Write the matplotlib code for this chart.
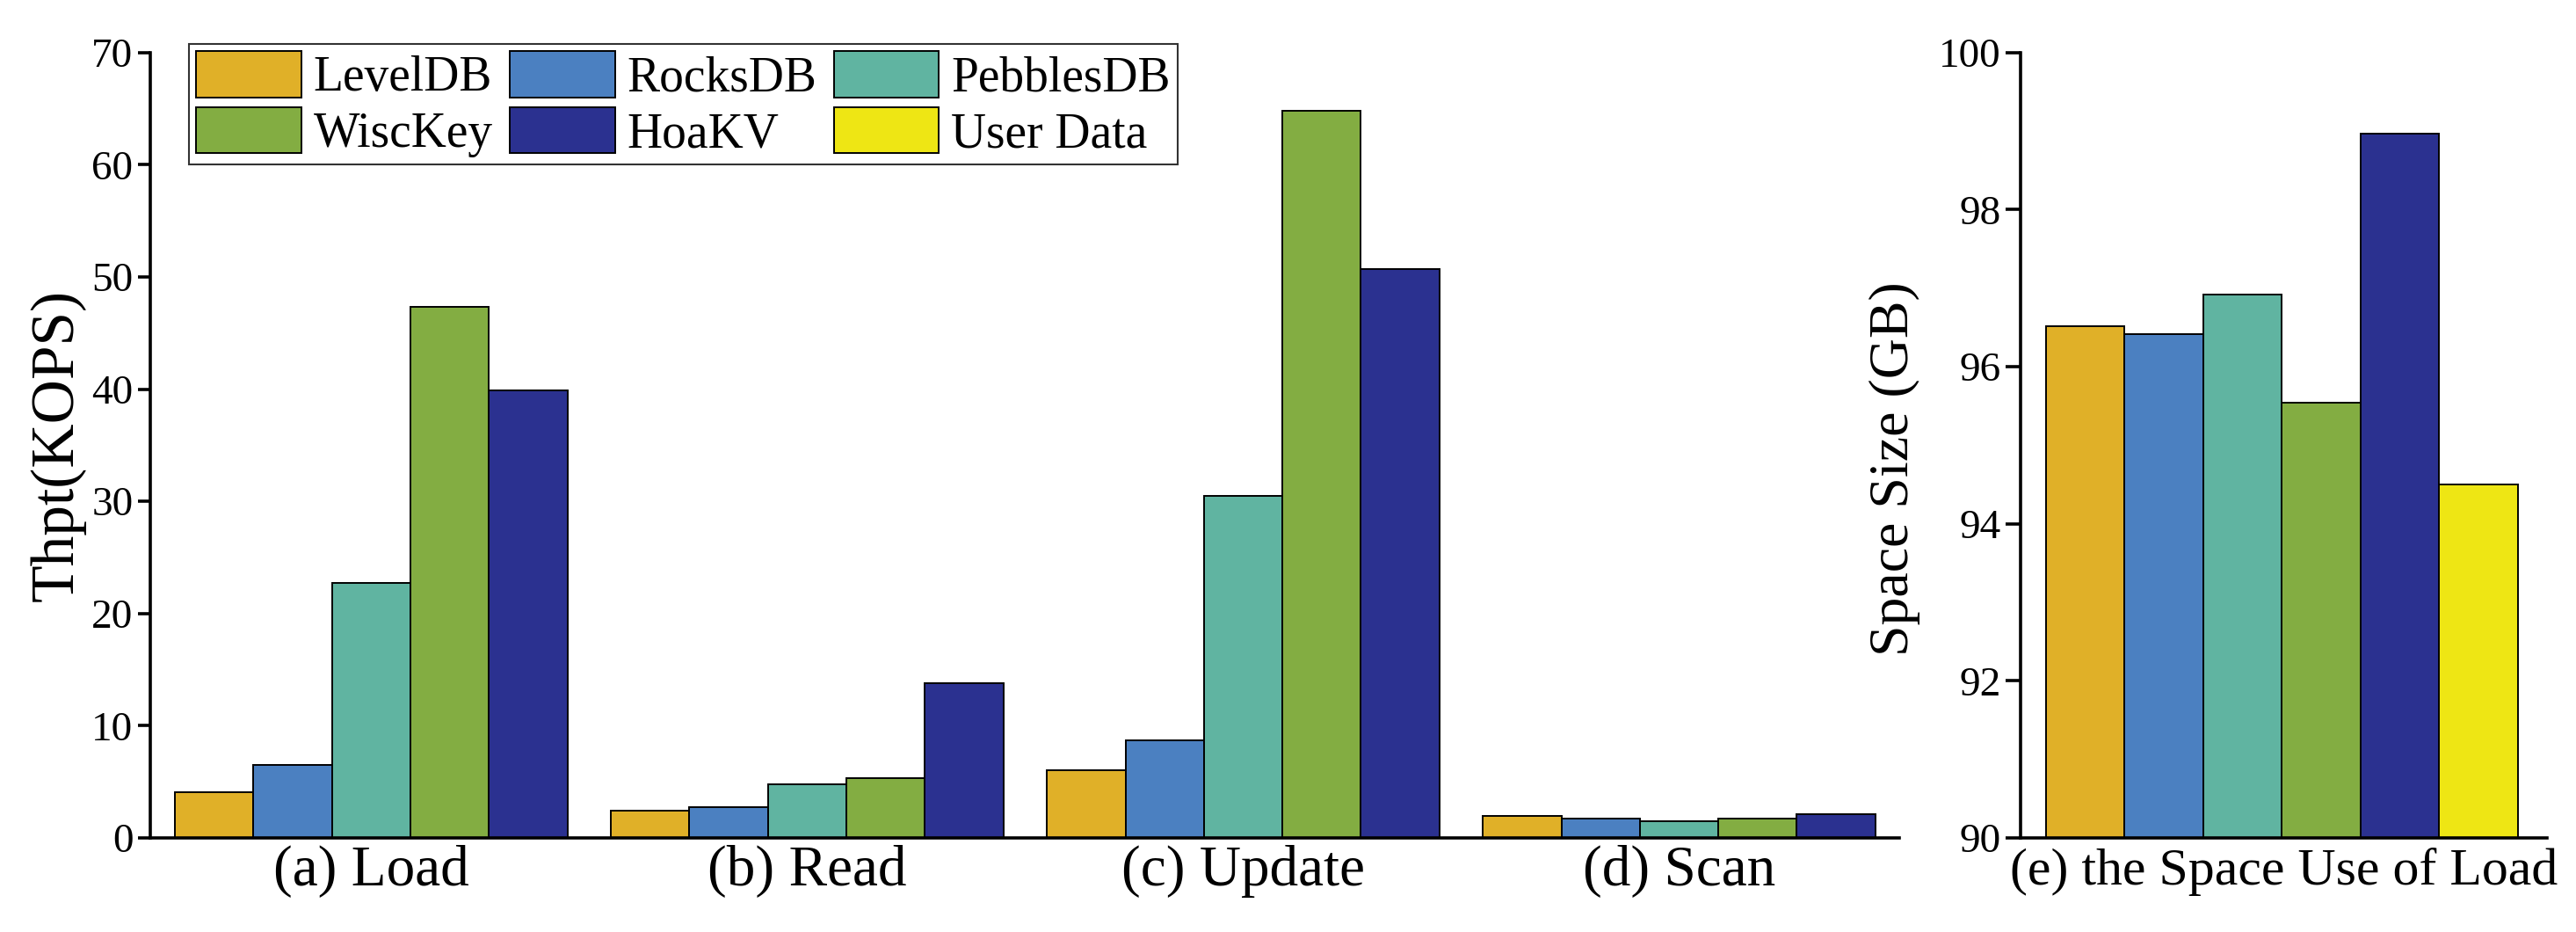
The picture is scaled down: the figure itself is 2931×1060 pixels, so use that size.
import matplotlib
matplotlib.use("Agg")
import matplotlib.pyplot as plt
import numpy as np

plt.rcParams["font.family"] = ["Liberation Serif", "DejaVu Serif"]

# throughput per workload (KOPS)
workloads = ["(a) Load", "(b) Read", "(c) Update", "(d) Scan"]
stores = ["LevelDB", "RocksDB", "PebblesDB", "WiscKey", "HoaKV"]
leveldb = [4.1, 2.4, 6.0, 1.95]
rocksdb = [6.5, 2.7, 8.7, 1.75]
pebblesdb = [22.7, 4.8, 30.5, 1.45]
wisckey = [47.3, 5.3, 64.8, 1.75]
hoakv = [39.9, 13.8, 50.7, 2.15]

# space use after load (GB)
space_names = ["LevelDB", "RocksDB", "PebblesDB", "WiscKey", "HoaKV", "User Data"]
space_size = [96.52, 96.42, 96.92, 95.54, 98.97, 94.50]

colors = ["#E0B028", "#4B80C1", "#60B4A1", "#83AD42", "#2B3190", "#EEE614"]

fig = plt.figure(figsize=(29.31, 10.60), dpi=100)
ax = fig.add_axes([0.0583, 0.101, 0.679, 0.8425])
ax2 = fig.add_axes([0.7844, 0.101, 0.2044, 0.8425])

series = [leveldb, rocksdb, pebblesdb, wisckey, hoakv]
x = np.arange(len(workloads))
width = 0.18
handles = []
for i, vals in enumerate(series):
    b = ax.bar(x + (i - 2) * width, vals, width, color=colors[i],
               edgecolor="black", linewidth=1.4, label=stores[i], zorder=2)
    handles.append(b)

ax.set_xlim(-0.507, 3.505)
ax.set_ylim(0, 70)
ax.set_yticks(range(0, 71, 10))
ax.set_xticks(x)
ax.set_xticklabels(workloads, fontsize=47)
ax.tick_params(axis="x", length=0, pad=6)
ax.tick_params(axis="y", labelsize=34, length=10, width=2.6, pad=4)
ax.set_ylabel("Thpt(KOPS)", fontsize=50)
ax.yaxis.set_label_coords(-0.037, 0.5)

xs = np.arange(len(space_names))
bars2 = ax2.bar(xs, space_size, 1.0, color=colors, edgecolor="black",
                linewidth=1.4, zorder=2)
ax2.set_xlim(-0.82, 5.87)
ax2.set_ylim(90, 100)
ax2.set_yticks(range(90, 101, 2))
ax2.set_xticks([])
ax2.tick_params(axis="y", labelsize=34, length=12, width=2.6, pad=4)
ax2.set_xlabel("(e) the Space Use of Load", fontsize=43, labelpad=8)
ax2.set_ylabel("Space Size (GB)", fontsize=46)
ax2.yaxis.set_label_coords(-0.19, 0.47)

for a in (ax, ax2):
    a.spines["top"].set_visible(False)
    a.spines["right"].set_visible(False)
    a.spines["left"].set_linewidth(2.6)
    a.spines["bottom"].set_linewidth(2.6)

# legend: the five stores plus the user-data bar
handles.append(bars2[5])
labels = stores + ["User Data"]
order = [0, 3, 1, 4, 2, 5]
leg = fig.legend([handles[k] for k in order], [labels[k] for k in order],
                 ncol=3, loc="upper left", bbox_to_anchor=(0.0734, 0.9528),
                 bbox_transform=fig.transFigure, borderaxespad=0,
                 fontsize=40, frameon=True, fancybox=False,
                 handlelength=2.15, handleheight=1.07, handletextpad=0.25,
                 columnspacing=0.35, labelspacing=0.12, borderpad=0.15)
leg.get_frame().set_edgecolor("black")
leg.get_frame().set_linewidth(1.5)

fig.savefig("out.png", dpi=100)
